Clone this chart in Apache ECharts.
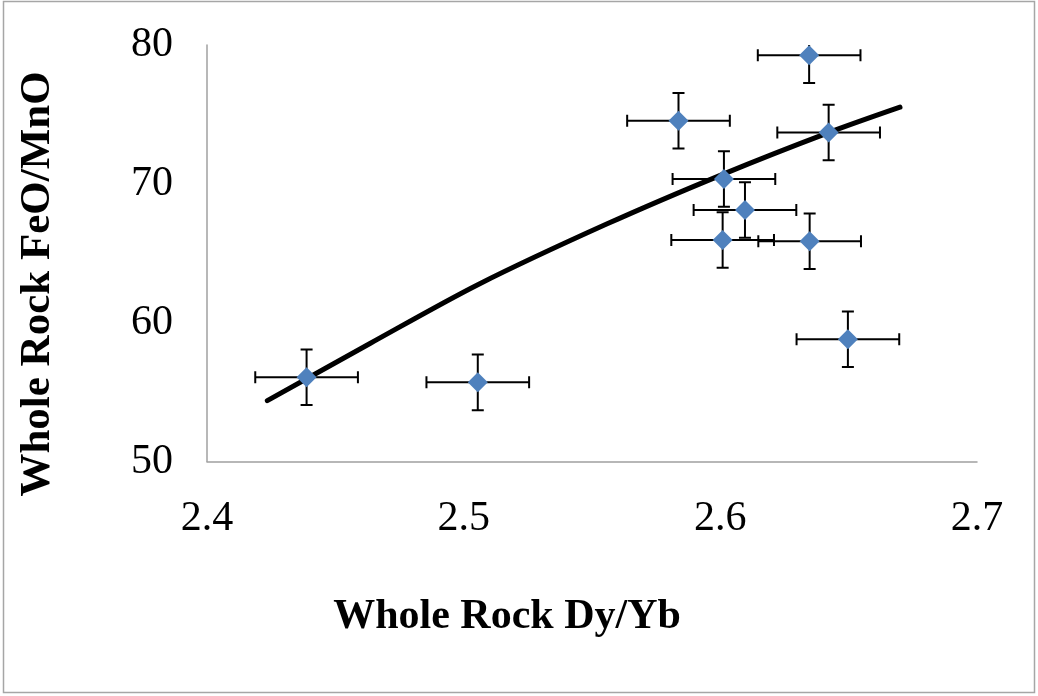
<!DOCTYPE html>
<html>
<head>
<meta charset="utf-8">
<script src="https://cdn.jsdelivr.net/npm/echarts@6/dist/echarts.min.js"></script>
<style>
  html, body { margin: 0; padding: 0; background: #fff; }
  #chart { width: 1038px; height: 696px; }
</style>
</head>
<body>
<div id="chart"></div>
<script>
// sample values
var dyYb = [2.4388, 2.5055, 2.5837, 2.6014, 2.6096, 2.6009, 2.6346, 2.6422, 2.6348, 2.6497];
var feoMno = [56.07, 55.70, 74.55, 70.35, 68.12, 65.96, 79.27, 73.69, 65.86, 58.80];
var xErr = [0.02, 0.02, 0.02, 0.02, 0.02, 0.02, 0.02, 0.02, 0.02, 0.02];
var yErr = [2, 2, 2, 2, 2, 2, 2, 2, 2, 2];

// trend line
var trendX = [2.4235, 2.4635, 2.5057, 2.5557, 2.6014, 2.6422, 2.67];
var trendY = [54.38, 58.50, 62.75, 67.10, 70.72, 73.69, 75.52];

var xTicks = ['2.4', '2.5', '2.6', '2.7'];
var yTicks = ['50', '60', '70', '80'];

var points = dyYb.map(function (x, i) { return [x, feoMno[i], xErr[i], yErr[i]]; });
var trend = trendX.map(function (x, i) { return [x, trendY[i]]; });

var FONT = '"Liberation Serif", "Times New Roman", serif';
var chart = echarts.init(document.getElementById('chart'));

function errorBars(params, api) {
  var x = api.value(0), y = api.value(1), dx = api.value(2), dy = api.value(3);
  var l = api.coord([x - dx, y]), r = api.coord([x + dx, y]);
  var t = api.coord([x, y + dy]), b = api.coord([x, y - dy]);
  var cap = 6;
  var style = { stroke: '#000', lineWidth: 2 };
  function seg(p, q) {
    return { type: 'line', shape: { x1: p[0], y1: p[1], x2: q[0], y2: q[1] }, style: style };
  }
  return {
    type: 'group',
    children: [
      seg(l, r), seg([l[0], l[1] - cap], [l[0], l[1] + cap]), seg([r[0], r[1] - cap], [r[0], r[1] + cap]),
      seg(t, b), seg([t[0] - cap, t[1]], [t[0] + cap, t[1]]), seg([b[0] - cap, b[1]], [b[0] + cap, b[1]])
    ]
  };
}

chart.setOption({
  animation: false,
  backgroundColor: '#fff',
  grid: { left: 207, right: 61, top: 45, bottom: 234.5 },
  xAxis: {
    type: 'value', min: 2.4, max: 2.7, interval: 0.1,
    axisLine: { lineStyle: { color: '#a0a0a0', width: 1.5 } },
    axisTick: { show: false },
    splitLine: { show: false },
    axisLabel: {
      margin: 36, fontFamily: FONT, fontSize: 42, color: '#000',
      formatter: function (v) { return xTicks[Math.round((v - 2.4) * 10)]; }
    }
  },
  yAxis: {
    type: 'value', min: 50, max: 80, interval: 10,
    axisLine: { show: true, lineStyle: { color: '#a0a0a0', width: 1.5 } },
    axisTick: { show: false },
    splitLine: { show: false },
    axisLabel: {
      margin: 34, fontFamily: FONT, fontSize: 42, color: '#000',
      formatter: function (v) { return yTicks[Math.round((v - 50) / 10)]; }
    }
  },
  graphic: [
    {
      type: 'rect', silent: true,
      shape: { x: 3.5, y: 1.5, width: 1031, height: 691 },
      style: { fill: 'none', stroke: '#a6a6a6', lineWidth: 1.5 }
    },
    {
      type: 'text', x: 507, y: 617,
      style: {
        text: 'Whole Rock Dy/Yb', font: 'bold 42px ' + FONT, fill: '#000',
        align: 'center', verticalAlign: 'middle'
      }
    },
    {
      type: 'text', x: 38, y: 284, rotation: Math.PI / 2,
      style: {
        text: 'Whole Rock FeO/MnO', font: 'bold 43px ' + FONT, fill: '#000',
        align: 'center', verticalAlign: 'middle'
      }
    }
  ],
  series: [
    {
      type: 'line', data: trend, smooth: 0.3, showSymbol: false, z: 1,
      lineStyle: { color: '#000', width: 5, cap: 'round' }
    },
    {
      type: 'custom', data: points, renderItem: errorBars, clip: true, z: 2,
      encode: { x: 0, y: 1 }
    },
    {
      type: 'scatter', data: points, symbol: 'diamond', symbolSize: [20, 20], z: 3,
      itemStyle: { color: '#4f81bd', opacity: 1 }
    }
  ]
});
</script>
</body>
</html>
